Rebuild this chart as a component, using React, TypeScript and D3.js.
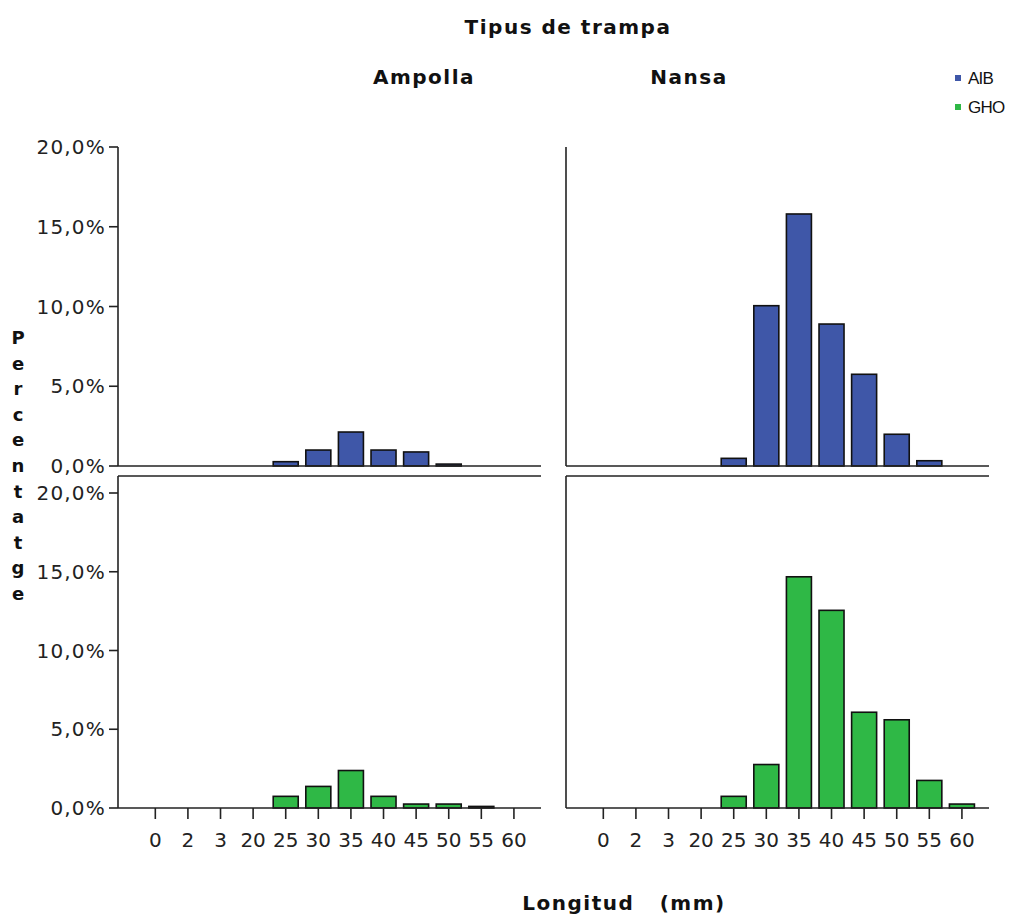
import React from "react";
import * as d3 from "d3";

// Length classes (mm) on the x axis
const lengths = ["0", "2", "3", "20", "25", "30", "35", "40", "45", "50", "55", "60"];

// Percentage of catches per length class, by species and trap type
const aibAmpolla = [0, 0, 0, 0, 0.27, 1.0, 2.13, 1.0, 0.88, 0.12, 0, 0];
const aibNansa = [0, 0, 0, 0, 0.48, 10.05, 15.8, 8.9, 5.75, 1.99, 0.33, 0];
const ghoAmpolla = [0, 0, 0, 0, 0.74, 1.37, 2.38, 0.74, 0.25, 0.25, 0.1, 0];
const ghoNansa = [0, 0, 0, 0, 0.74, 2.76, 14.68, 12.55, 6.08, 5.6, 1.75, 0.25];

const yTicks = [0, 5, 10, 15, 20];
const trapTypes = ["Ampolla", "Nansa"];
const species = ["AIB", "GHO"];
const speciesColors = ["#3f57a8", "#2fb846"];

const W = 1016;
const H = 915;
const colX = [118, 566];
const panelW = 423;
// per row: zero baseline, 20% line, top of the drawn frame
const rows = [
  { base: 466, top20: 147, frame: 147, boxed: false },
  { base: 808, top20: 493, frame: 476, boxed: true },
];

const fmtPct = (v: number) => d3.format(".1f")(v).replace(".", ",") + "%";

function Panel({ col, row, values, color }: { col: number; row: number; values: number[]; color: string }) {
  const x0 = colX[col];
  const r = rows[row];
  const x = d3
    .scaleBand<string>()
    .domain(lengths)
    .range([x0, x0 + panelW])
    .paddingInner(0.233)
    .paddingOuter(0.604)
    .align(0.63);
  const y = d3.scaleLinear().domain([0, 20]).range([r.base, r.top20]);
  const showY = col === 0;
  const showX = row === 1;
  return (
    <g>
      {values.map((v, i) =>
        v > 0 ? (
          <rect
            key={i}
            x={x(lengths[i])!}
            y={y(v)}
            width={x.bandwidth()}
            height={y(0) - y(v)}
            fill={color}
            stroke="#111"
            strokeWidth={1.6}
          />
        ) : null
      )}
      {/* frame */}
      <line x1={x0} x2={x0} y1={r.frame} y2={r.base} stroke="#222" strokeWidth={1.6} />
      <line x1={x0} x2={x0 + panelW} y1={r.base} y2={r.base} stroke="#222" strokeWidth={1.6} />
      {r.boxed && <line x1={x0} x2={x0 + panelW} y1={r.frame} y2={r.frame} stroke="#222" strokeWidth={1.6} />}
      {showY &&
        yTicks.map((t) => (
          <g key={t} transform={`translate(0,${y(t)})`}>
            <line x1={x0 - 9} x2={x0} stroke="#222" strokeWidth={1.6} />
            <text
              x={x0 - 12}
              dy="0.35em"
              textAnchor="end"
              fontFamily="DejaVu Sans"
              fontSize={20}
              letterSpacing={1.2}
              fill="#222"
            >
              {fmtPct(t)}
            </text>
          </g>
        ))}
      {showX &&
        lengths.map((l) => {
          const cx = x(l)! + x.bandwidth() / 2;
          return (
            <g key={l} transform={`translate(${cx},0)`}>
              <line y1={r.base} y2={r.base + 11} stroke="#222" strokeWidth={1.6} />
              <text y={r.base + 39} textAnchor="middle" fontFamily="DejaVu Sans" fontSize={20} fill="#222">
                {l}
              </text>
            </g>
          );
        })}
    </g>
  );
}

export default function App() {
  const series = [
    [aibAmpolla, aibNansa],
    [ghoAmpolla, ghoNansa],
  ];
  const yLabel = "Percentatge".split("");
  return (
    <svg width={W} height={H} style={{ position: "absolute", left: 0, top: 0, background: "#fff" }}>
      <rect width={W} height={H} fill="#fff" />
      <text x={568} y={34} textAnchor="middle" fontFamily="DejaVu Sans" fontWeight="bold" fontSize={20} letterSpacing={1.5} fill="#111">
        Tipus de trampa
      </text>
      {trapTypes.map((t, i) => (
        <text
          key={t}
          x={colX[i] + [306, 123][i]}
          y={84}
          textAnchor="middle"
          fontFamily="DejaVu Sans"
          fontWeight="bold"
          fontSize={20}
          letterSpacing={1.5}
          fill="#111"
        >
          {t}
        </text>
      ))}
      {species.map((s, i) => (
        <g key={s} transform={`translate(955,${78 + i * 29})`}>
          <rect x={0} y={-3} width={6} height={6} fill={speciesColors[i]} />
          <text x={13} dy="0.36em" fontFamily="Liberation Sans" fontSize={17} letterSpacing={-0.8} fill="#111">
            {s}
          </text>
        </g>
      ))}
      {series.map((rowSeries, row) =>
        rowSeries.map((vals, col) => (
          <Panel key={`${row}-${col}`} row={row} col={col} values={vals} color={speciesColors[row]} />
        ))
      )}
      {yLabel.map((c, i) => (
        <text
          key={i}
          x={18}
          y={344 + i * 25.6}
          textAnchor="middle"
          fontFamily="DejaVu Sans"
          fontWeight="bold"
          fontSize={18}
          fill="#111"
        >
          {c}
        </text>
      ))}
      <text
        x={624}
        y={910}
        textAnchor="middle"
        fontFamily="DejaVu Sans"
        fontWeight="bold"
        fontSize={20}
        letterSpacing={1.5}
        fill="#111"
        style={{ whiteSpace: "pre" }}
      >
        {"Longitud   (mm)"}
      </text>
    </svg>
  );
}
